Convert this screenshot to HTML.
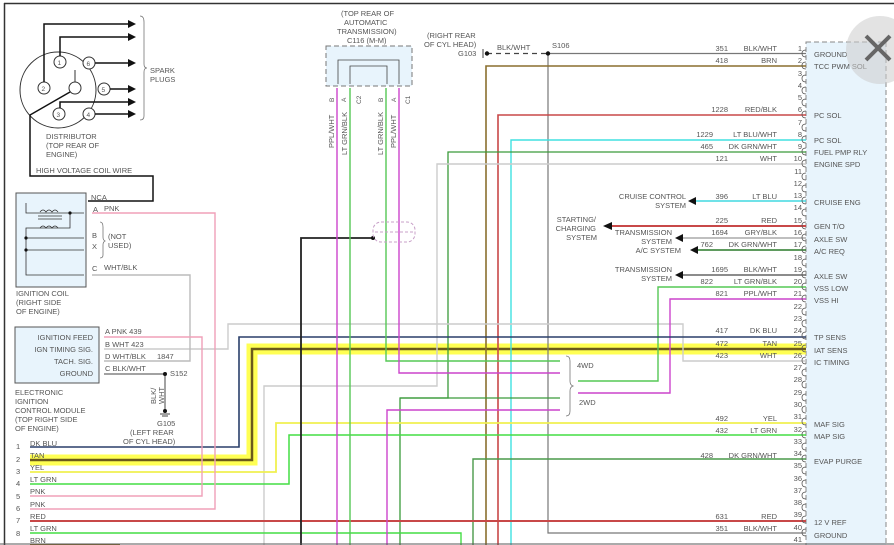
<!DOCTYPE html>
<html><head><meta charset="utf-8"><style>
html,body{margin:0;padding:0;background:#fff;}
svg{display:block;font-family:"Liberation Sans",sans-serif;}
text{font-size:7.5px;fill:#555;}
</style></head><body>
<svg width="894" height="545" viewBox="0 0 894 545" xmlns="http://www.w3.org/2000/svg">
<rect width="894" height="545" fill="#fff"/>
<line x1="4" y1="3.5" x2="894" y2="3.5" stroke="#333" stroke-width="1.5"/>
<line x1="4.5" y1="3" x2="4.5" y2="545" stroke="#333" stroke-width="1.5"/>

<rect x="806" y="42" width="80" height="505" fill="#e8f4fc" stroke="#888" stroke-dasharray="5,3"/>

<circle cx="58" cy="90" r="38" fill="none" stroke="#333"/>
<g fill="#fff" stroke="#333">
<circle cx="60" cy="62" r="6"/><circle cx="89" cy="63" r="6"/><circle cx="44" cy="88" r="6"/>
<circle cx="104" cy="89" r="6"/><circle cx="59" cy="114" r="6"/><circle cx="89" cy="114" r="6"/>
<circle cx="75" cy="88" r="6"/></g>
<g><text x="57.5" y="65" style="font-size:6.5px">1</text><text x="86.5" y="66" style="font-size:6.5px">6</text><text x="41.5" y="91" style="font-size:6.5px">2</text><text x="101.5" y="92" style="font-size:6.5px">5</text><text x="56.5" y="117" style="font-size:6.5px">3</text><text x="86.5" y="117" style="font-size:6.5px">4</text></g>
<line x1="75" y1="70" x2="75" y2="82" stroke="#333"/>
<g stroke="#111" stroke-width="1.5" fill="none">
<polyline points="44,82 44,24 128,24"/><polyline points="60,56 60,37 128,37"/>
<polyline points="95,63 128,63"/><polyline points="110,89 128,89"/>
<polyline points="60,108 60,102 128,102"/><polyline points="95,114 128,114"/>
<polyline points="70,92 30,115 30,176 153,176 153,201 88,201"/>
</g>
<g fill="#111"><polygon points="128,20 136,24 128,28"/><polygon points="128,33 136,37 128,41"/><polygon points="128,59 136,63 128,67"/><polygon points="128,85 136,89 128,93"/><polygon points="128,98 136,102 128,106"/><polygon points="128,110 136,114 128,118"/></g>
<path d="M140,16 Q144,16 144,22 L144,64 Q144,68 147,68 Q144,68 144,72 L144,116 Q144,120 140,120" fill="none" stroke="#777" stroke-width="0.8"/>
<text x="150" y="73">SPARK</text><text x="150" y="82">PLUGS</text>
<text x="46" y="139">DISTRIBUTOR</text><text x="46" y="148">(TOP REAR OF</text><text x="46" y="157">ENGINE)</text>
<text x="36" y="173">HIGH VOLTAGE COIL WIRE</text>

<rect x="16" y="193" width="70" height="94" fill="#e8f4fc" stroke="#555"/>
<g stroke="#333" fill="none" stroke-width="0.8">
<polyline points="26,203 26,213 84,213"/><polyline points="70,213 70,228 40,228"/>
<line x1="38" y1="216" x2="62" y2="216"/><line x1="38" y1="219" x2="62" y2="219"/>
<path d="M40,212 q3,-4 6,0 q3,-4 6,0 q3,-4 6,0"/><path d="M40,228 q3,-4 6,0 q3,-4 6,0 q3,-4 6,0"/>
<polyline points="40,228 26,228 26,275 84,275"/><line x1="26" y1="238" x2="84" y2="238"/><line x1="26" y1="250" x2="84" y2="250"/>
</g>
<g fill="#111"><circle cx="70" cy="213" r="1.6"/><circle cx="26" cy="238" r="1.6"/><circle cx="26" cy="250" r="1.6"/></g>
<text x="91" y="200">NCA</text><text x="93" y="212">A</text><text x="104" y="211">PNK</text>
<text x="92" y="238">B</text><text x="92" y="249">X</text><text x="108" y="239">(NOT</text><text x="108" y="248">USED)</text>
<text x="92" y="271">C</text><text x="104" y="270">WHT/BLK</text>
<path d="M100,222 q3,0 3,5 l0,10 q0,3 2,4 q-2,1 -2,4 l0,10 q0,3 -3,3" fill="none" stroke="#777" stroke-width="0.8"/>
<text x="16" y="296">IGNITION COIL</text><text x="16" y="305">(RIGHT SIDE</text><text x="16" y="314">OF ENGINE)</text>

<rect x="15" y="327" width="84" height="56" fill="#e8f4fc" stroke="#555"/>
<g text-anchor="end"><text x="93" y="340">IGNITION FEED</text><text x="93" y="352">IGN TIMING SIG.</text><text x="93" y="364">TACH. SIG.</text><text x="93" y="376">GROUND</text></g>
<text x="105" y="334">A  PNK  439</text><text x="105" y="347">B  WHT  423</text><text x="105" y="359">D  WHT/BLK</text><text x="157" y="359">1847</text><text x="105" y="371">C  BLK/WHT</text>
<line x1="104" y1="374" x2="165" y2="374" stroke="#444"/><circle cx="165" cy="374" r="2" fill="#111"/><text x="170" y="376">S152</text>
<line x1="165" y1="376" x2="165" y2="410" stroke="#444"/><circle cx="165" cy="411" r="2" fill="#111"/>
<line x1="160" y1="414" x2="170" y2="414" stroke="#444"/><line x1="162" y1="416" x2="168" y2="416" stroke="#444"/>
<text transform="translate(156,404) rotate(-90)">BLK/</text><text transform="translate(164,404) rotate(-90)">WHT</text>
<text x="157" y="426">G105</text><text x="130" y="435">(LEFT REAR</text><text x="123" y="444">OF CYL HEAD)</text>
<text x="15" y="395">ELECTRONIC</text><text x="15" y="404">IGNITION</text><text x="15" y="413">CONTROL MODULE</text><text x="15" y="422">(TOP RIGHT SIDE</text><text x="15" y="431">OF ENGINE)</text>

<rect x="326" y="46" width="86" height="40" fill="#e8f4fc" stroke="#777" stroke-dasharray="5,3"/>
<g stroke="#444" fill="none" stroke-width="0.8"><polyline points="338,84 338,60 399,60 399,84"/><polyline points="350,84 350,66 387,66 387,84"/></g>
<text x="341" y="16">(TOP REAR OF</text><text x="344" y="25">AUTOMATIC</text><text x="337" y="34">TRANSMISSION)</text><text x="347" y="43">C116 (M-M)</text>
<g><text transform="translate(334,102) rotate(-90)" style="font-size:6.5px">B</text><text transform="translate(346,102) rotate(-90)" style="font-size:6.5px">A</text><text transform="translate(361,104) rotate(-90)" style="font-size:6.5px">C2</text><text transform="translate(383,102) rotate(-90)" style="font-size:6.5px">B</text><text transform="translate(396,102) rotate(-90)" style="font-size:6.5px">A</text><text transform="translate(410,104) rotate(-90)" style="font-size:6.5px">C1</text></g>
<text transform="translate(334,148) rotate(-90)">PPL/WHT</text><text transform="translate(347,155) rotate(-90)">LT GRN/BLK</text>
<text transform="translate(383,155) rotate(-90)">LT GRN/BLK</text><text transform="translate(396,148) rotate(-90)">PPL/WHT</text>
<text x="427" y="38">(RIGHT REAR</text><text x="424" y="47">OF CYL HEAD)</text><text x="458" y="56">G103</text>
<text x="497" y="50">BLK/WHT</text><text x="552" y="48">S106</text>

<g fill="none" stroke-linejoin="miter">
<polyline points="30,460 252,460 252,349 806,349" stroke="#ffff40" stroke-width="11" opacity="0.9"/>
<polyline points="30,460 252,460 252,349 806,349" stroke="#6b5a1a" stroke-width="2.5"/>
<polyline points="806,53.5 548,53.5 548,533 806,533" stroke="#777" stroke-width="1.2"/>
<line x1="487" y1="53.5" x2="548" y2="53.5" stroke="#444" stroke-width="1.2" stroke-dasharray="5,4"/>
<polyline points="806,66 486,66 486,545" stroke="#8a6f2e" stroke-width="1.6"/>
<polyline points="806,115 498,115 498,545" stroke="#c84848" stroke-width="1.6"/>
<polyline points="806,140 511,140 511,545" stroke="#40e0e0" stroke-width="1.4"/>
<polyline points="806,152 448,152 448,398 400,398 400,545" stroke="#3a9a3a" stroke-width="1.3"/>
<line x1="400" y1="398" x2="560" y2="398" stroke="#3a9a3a" stroke-width="1.3"/>
<polyline points="806,164 437,164 437,386 264,386 264,545" stroke="#ccc" stroke-width="1.4"/>
<polyline points="104,349 228,349 228,324 683,324 683,361 806,361" stroke="#ccc" stroke-width="1.4"/>
<polyline points="92,275 190,275 190,361 104,361" stroke="#bbb" stroke-width="1.4"/>
<polyline points="806,201 692,201" stroke="#40d8e0" stroke-width="1.6"/>
<polyline points="806,226 608,226" stroke="#c84848" stroke-width="2"/>
<polyline points="806,238 680,238" stroke="#aaa" stroke-width="1.6"/>
<polyline points="806,250 694,250" stroke="#2a7a2a" stroke-width="1.6"/>
<polyline points="806,275 680,275" stroke="#666" stroke-width="1.6"/>
<polyline points="806,287 658,287 658,381 578,381" stroke="#55c855" stroke-width="1.4"/>
<polyline points="806,299 670,299 670,393 578,393" stroke="#cc44cc" stroke-width="1.4"/>
<polyline points="806,337 239,337 239,447 30,447" stroke="#2a3f6a" stroke-width="1.6"/>
<polyline points="806,423 276,423 276,472 30,472" stroke="#f0f050" stroke-width="1.8"/>
<polyline points="806,435 289,435 289,484 30,484" stroke="#44dd44" stroke-width="1.5"/>
<polyline points="806,459 473,459 473,545" stroke="#4a9a4a" stroke-width="1.4"/>
<polyline points="104,337 202,337 202,496 30,496" stroke="#f0a0b8" stroke-width="1.4"/>
<polyline points="92,213 215,213 215,509 30,509" stroke="#f0a0b8" stroke-width="1.4"/>
<line x1="30" y1="521" x2="806" y2="521" stroke="#c84848" stroke-width="2"/>
<polyline points="30,533 461,533 461,545" stroke="#44dd44" stroke-width="1.4"/>
<line x1="30" y1="545" x2="120" y2="545" stroke="#8a6f2e" stroke-width="1.4"/>
<polyline points="301,545 301,238 373,238" stroke="#222" stroke-width="1.8"/>
<line x1="337" y1="88" x2="337" y2="545" stroke="#cc44cc" stroke-width="1.4"/>
<line x1="350" y1="88" x2="350" y2="545" stroke="#55c855" stroke-width="1.4"/>
<polyline points="386,88 386,361 560,361" stroke="#55c855" stroke-width="1.4"/>
<polyline points="399,88 399,373 560,373" stroke="#cc44cc" stroke-width="1.4"/>
<polyline points="560,410 387,410 387,545" stroke="#cc44cc" stroke-width="1.4"/>
</g>
<circle cx="373" cy="238" r="2" fill="#111"/>
<g fill="none" stroke="#c8a0c8" stroke-dasharray="3,2"><rect x="373" y="222" width="42" height="20" rx="8"/><line x1="375" y1="232" x2="413" y2="232"/></g>
<circle cx="487" cy="53.5" r="2.2" fill="#111"/><line x1="483" y1="49" x2="483" y2="58" stroke="#444"/><circle cx="548" cy="53.5" r="2.2" fill="#111"/>
<g fill="#111"><polygon points="688,201 696,197 696,205"/><polygon points="603,226 612,222 612,230"/><polygon points="675,238 683,234 683,242"/><polygon points="690,250 698,246 698,254"/><polygon points="675,275 683,271 683,279"/></g>
<path d="M566,356 q4,0 4,5 l0,20 q0,4 3,5 q-3,1 -3,5 l0,20 q0,5 -4,5" fill="none" stroke="#777" stroke-width="0.8"/>
<text x="577" y="368">4WD</text><text x="579" y="405">2WD</text>

<g text-anchor="end"><text x="686" y="199">CRUISE CONTROL</text><text x="686" y="208">SYSTEM</text>
<text x="596" y="222">STARTING/</text><text x="596" y="231">CHARGING</text><text x="597" y="240">SYSTEM</text>
<text x="672" y="235">TRANSMISSION</text><text x="672" y="244">SYSTEM</text><text x="681" y="253">A/C SYSTEM</text>
<text x="672" y="272">TRANSMISSION</text><text x="672" y="281">SYSTEM</text></g>

<g><text x="16" y="449">1</text><text x="30" y="446">DK BLU</text><text x="16" y="462">2</text><text x="30" y="458">TAN</text><text x="16" y="474">3</text><text x="30" y="470">YEL</text><text x="16" y="486">4</text><text x="30" y="482">LT GRN</text><text x="16" y="499">5</text><text x="30" y="494">PNK</text><text x="16" y="511">6</text><text x="30" y="507">PNK</text><text x="16" y="523">7</text><text x="30" y="519">RED</text><text x="16" y="536">8</text><text x="30" y="531">LT GRN</text><text x="30" y="543">BRN</text></g>

<g text-anchor="end">
<text x="802" y="51">1</text><text x="802" y="63">2</text><text x="802" y="76">3</text><text x="802" y="88">4</text><text x="802" y="100">5</text><text x="802" y="112">6</text><text x="802" y="125">7</text><text x="802" y="137">8</text><text x="802" y="149">9</text><text x="802" y="161">10</text><text x="802" y="174">11</text><text x="802" y="186">12</text><text x="802" y="198">13</text><text x="802" y="210">14</text><text x="802" y="223">15</text><text x="802" y="235">16</text><text x="802" y="247">17</text><text x="802" y="260">18</text><text x="802" y="272">19</text><text x="802" y="284">20</text><text x="802" y="296">21</text><text x="802" y="309">22</text><text x="802" y="321">23</text><text x="802" y="333">24</text><text x="802" y="346">25</text><text x="802" y="358">26</text><text x="802" y="370">27</text><text x="802" y="382">28</text><text x="802" y="395">29</text><text x="802" y="407">30</text><text x="802" y="419">31</text><text x="802" y="432">32</text><text x="802" y="444">33</text><text x="802" y="456">34</text><text x="802" y="468">35</text><text x="802" y="481">36</text><text x="802" y="493">37</text><text x="802" y="505">38</text><text x="802" y="517">39</text><text x="802" y="530">40</text><text x="802" y="542">41</text>
<text x="728" y="51">351</text><text x="777" y="51">BLK/WHT</text>
<text x="728" y="63">418</text><text x="777" y="63">BRN</text>
<text x="728" y="112">1228</text><text x="777" y="112">RED/BLK</text>
<text x="713" y="137">1229</text><text x="777" y="137">LT BLU/WHT</text>
<text x="713" y="149">465</text><text x="777" y="149">DK GRN/WHT</text>
<text x="728" y="161">121</text><text x="777" y="161">WHT</text>
<text x="728" y="199">396</text><text x="777" y="199">LT BLU</text>
<text x="728" y="223">225</text><text x="777" y="223">RED</text>
<text x="728" y="235">1694</text><text x="777" y="235">GRY/BLK</text>
<text x="713" y="247">762</text><text x="777" y="247">DK GRN/WHT</text>
<text x="728" y="272">1695</text><text x="777" y="272">BLK/WHT</text>
<text x="713" y="284">822</text><text x="777" y="284">LT GRN/BLK</text>
<text x="728" y="296">821</text><text x="777" y="296">PPL/WHT</text>
<text x="728" y="333">417</text><text x="777" y="333">DK BLU</text>
<text x="728" y="346">472</text><text x="777" y="346">TAN</text>
<text x="728" y="358">423</text><text x="777" y="358">WHT</text>
<text x="728" y="421">492</text><text x="777" y="421">YEL</text>
<text x="728" y="433">432</text><text x="777" y="433">LT GRN</text>
<text x="713" y="458">428</text><text x="777" y="458">DK GRN/WHT</text>
<text x="728" y="519">631</text><text x="777" y="519">RED</text>
<text x="728" y="531">351</text><text x="777" y="531">BLK/WHT</text>
</g>
<g fill="none" stroke="#555" stroke-width="0.8">
<path d="M806,50 q-4,0 -4,3.5 q0,3.5 4,3.5 M806,62 q-4,0 -4,3.5 q0,3.5 4,3.5 M806,75 q-4,0 -4,3.5 q0,3.5 4,3.5 M806,87 q-4,0 -4,3.5 q0,3.5 4,3.5 M806,99 q-4,0 -4,3.5 q0,3.5 4,3.5 M806,111 q-4,0 -4,3.5 q0,3.5 4,3.5 M806,124 q-4,0 -4,3.5 q0,3.5 4,3.5 M806,136 q-4,0 -4,3.5 q0,3.5 4,3.5 M806,148 q-4,0 -4,3.5 q0,3.5 4,3.5 M806,160 q-4,0 -4,3.5 q0,3.5 4,3.5 M806,173 q-4,0 -4,3.5 q0,3.5 4,3.5 M806,185 q-4,0 -4,3.5 q0,3.5 4,3.5 M806,197 q-4,0 -4,3.5 q0,3.5 4,3.5 M806,209 q-4,0 -4,3.5 q0,3.5 4,3.5 M806,222 q-4,0 -4,3.5 q0,3.5 4,3.5 M806,234 q-4,0 -4,3.5 q0,3.5 4,3.5 M806,246 q-4,0 -4,3.5 q0,3.5 4,3.5 M806,259 q-4,0 -4,3.5 q0,3.5 4,3.5 M806,271 q-4,0 -4,3.5 q0,3.5 4,3.5 M806,283 q-4,0 -4,3.5 q0,3.5 4,3.5 M806,295 q-4,0 -4,3.5 q0,3.5 4,3.5 M806,308 q-4,0 -4,3.5 q0,3.5 4,3.5 M806,320 q-4,0 -4,3.5 q0,3.5 4,3.5 M806,332 q-4,0 -4,3.5 q0,3.5 4,3.5 M806,345 q-4,0 -4,3.5 q0,3.5 4,3.5 M806,357 q-4,0 -4,3.5 q0,3.5 4,3.5 M806,369 q-4,0 -4,3.5 q0,3.5 4,3.5 M806,381 q-4,0 -4,3.5 q0,3.5 4,3.5 M806,394 q-4,0 -4,3.5 q0,3.5 4,3.5 M806,406 q-4,0 -4,3.5 q0,3.5 4,3.5 M806,418 q-4,0 -4,3.5 q0,3.5 4,3.5 M806,431 q-4,0 -4,3.5 q0,3.5 4,3.5 M806,443 q-4,0 -4,3.5 q0,3.5 4,3.5 M806,455 q-4,0 -4,3.5 q0,3.5 4,3.5 M806,467 q-4,0 -4,3.5 q0,3.5 4,3.5 M806,480 q-4,0 -4,3.5 q0,3.5 4,3.5 M806,492 q-4,0 -4,3.5 q0,3.5 4,3.5 M806,504 q-4,0 -4,3.5 q0,3.5 4,3.5 M806,516 q-4,0 -4,3.5 q0,3.5 4,3.5 M806,529 q-4,0 -4,3.5 q0,3.5 4,3.5"/>
</g>
<g><text x="814" y="57">GROUND</text><text x="814" y="69">TCC PWM SOL</text><text x="814" y="118">PC SOL</text><text x="814" y="143">PC SOL</text><text x="814" y="155">FUEL PMP RLY</text><text x="814" y="167">ENGINE SPD</text><text x="814" y="205">CRUISE ENG</text><text x="814" y="229">GEN T/O</text><text x="814" y="242">AXLE SW</text><text x="814" y="254">A/C REQ</text><text x="814" y="279">AXLE SW</text><text x="814" y="291">VSS LOW</text><text x="814" y="303">VSS HI</text><text x="814" y="340">TP SENS</text><text x="814" y="353">IAT SENS</text><text x="814" y="365">IC TIMING</text><text x="814" y="427">MAF SIG</text><text x="814" y="439">MAP SIG</text><text x="814" y="464">EVAP PURGE</text><text x="814" y="525">12 V REF</text><text x="814" y="538">GROUND</text></g>

<circle cx="880" cy="50" r="34" fill="#ccc" opacity="0.55"/>
<g stroke="#666" stroke-width="4"><line x1="866" y1="36" x2="890" y2="60"/><line x1="890" y1="36" x2="866" y2="60"/></g>
<line x1="0" y1="544" x2="894" y2="544" stroke="#555" stroke-width="1"/>
</svg>
</body></html>
